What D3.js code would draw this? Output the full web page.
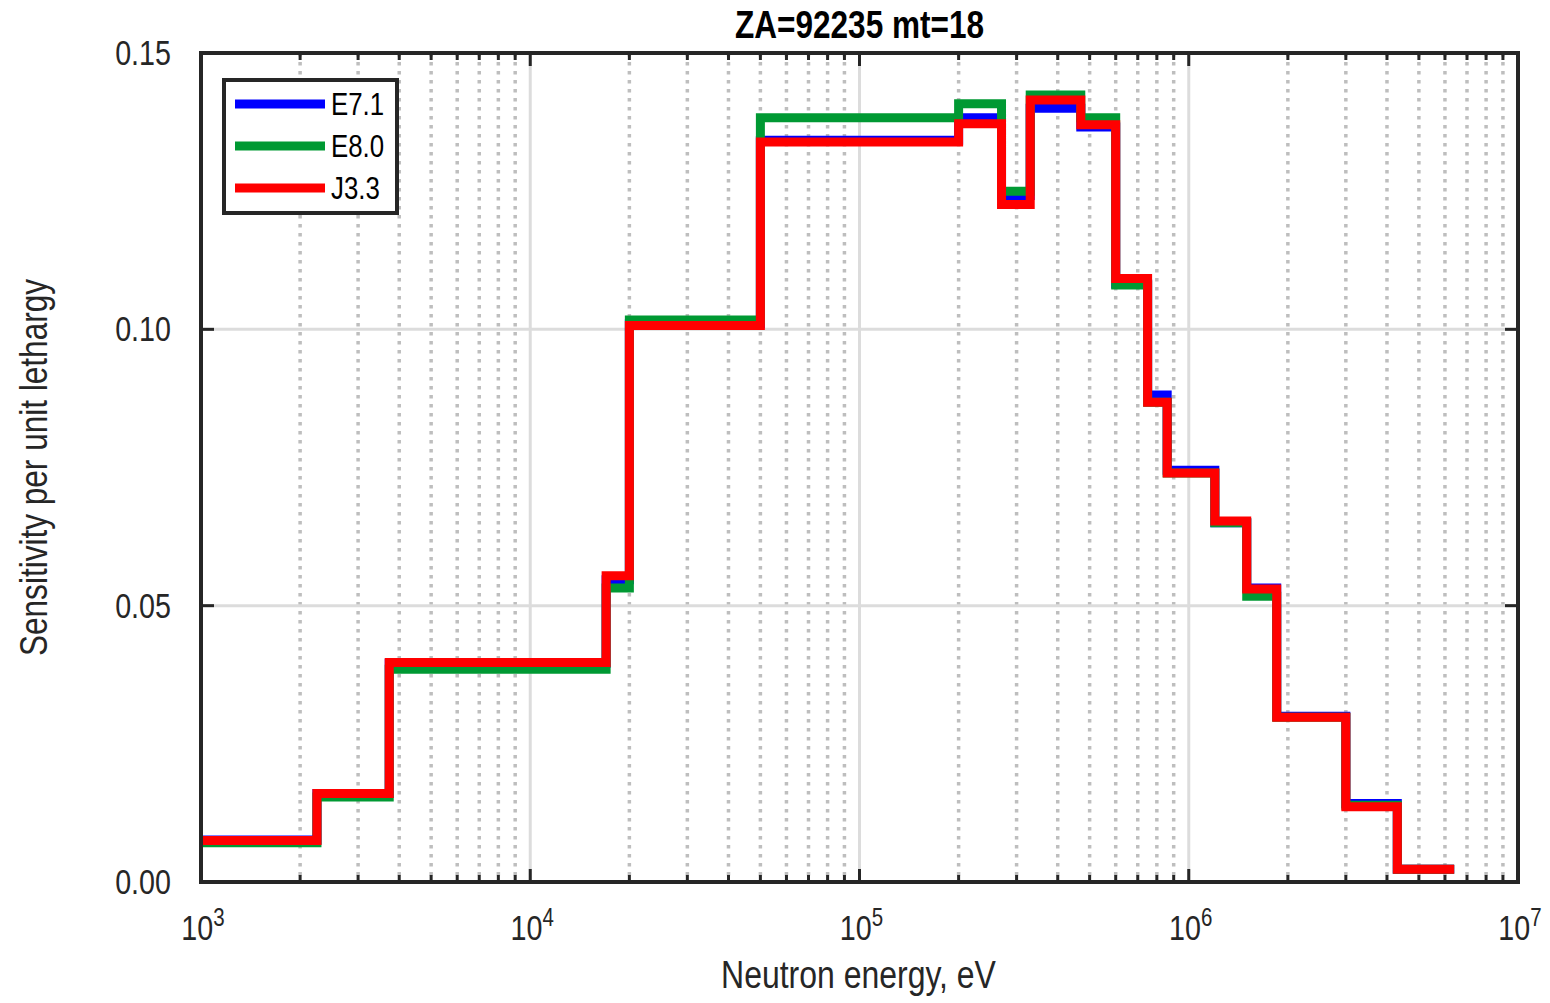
<!DOCTYPE html>
<html lang="en">
<head>
<meta charset="utf-8">
<title>ZA=92235 mt=18</title>
<style>
body { margin: 0; background: #fff; }
svg text { font-family: "Liberation Sans", Arial, Helvetica, sans-serif; fill: #262626; }
.grid-major { stroke: #dcdcdc; stroke-width: 3; }
.grid-minor { stroke: #bebebe; stroke-width: 3.5; stroke-dasharray: 3.5,5.5; }
.frame { fill: none; stroke: #262626; stroke-width: 4; }
.tick { stroke: #262626; stroke-width: 3; }
</style>
</head>
<body>
<div id="chart"></div>
<script src="https://d3js.org/d3.v7.min.js"></script>
<script>
// group boundaries (eV) and sensitivities per unit lethargy
var edges = [1e3, 2.25e3, 3.73e3, 1.7e4, 2.0e4, 5.0e4, 2.0e5, 2.7e5, 3.3e5, 4.7e5,
             6.0e5, 7.5e5, 8.6e5, 1.2e6, 1.5e6, 1.85e6, 3.0e6, 4.3e6, 6.4e6];
var e71 = [0.0076, 0.0160, 0.0396, 0.0547, 0.1010, 0.1342, 0.1383, 0.1242, 0.1400,
           0.1366, 0.1082, 0.0881, 0.0745, 0.0650, 0.0532, 0.0300, 0.0142, 0.0023];
var e80 = [0.0071, 0.0154, 0.0385, 0.0532, 0.1017, 0.1383, 0.1408, 0.1250, 0.1424,
           0.1383, 0.1080, 0.0868, 0.0740, 0.0650, 0.0517, 0.0298, 0.0139, 0.0023];
var j33 = [0.0075, 0.0160, 0.0397, 0.0554, 0.1007, 0.1339, 0.1372, 0.1226, 0.1415,
           0.1370, 0.1092, 0.0868, 0.0740, 0.0653, 0.0530, 0.0298, 0.0136, 0.0023];

var seriesNames = ["E7.1", "E8.0", "J3.3"];
var seriesColors = ["#0000ff", "#009933", "#ff0000"];
var seriesValues = [e71, e80, j33];

var yTicks = [0, 0.05, 0.10, 0.15];
var yTickLabels = ["0.00", "0.05", "0.10", "0.15"];
var xDecades = [1e3, 1e4, 1e5, 1e6, 1e7];
var xExponents = ["3", "4", "5", "6", "7"];

var width = 1550, height = 1003;
var pLeft = 201, pRight = 1518, pTop = 53, pBottom = 882;
var squeeze = 0.82; // narrow look of the original font

var svg = d3.select("#chart").append("svg")
    .attr("width", width)
    .attr("height", height);

var x = d3.scaleLog().domain([1e3, 1e7]).range([pLeft, pRight]);
var y = d3.scaleLinear().domain([0, 0.15]).range([pBottom, pTop]);

// minor ticks 2..9 of each decade
var minor = [];
xDecades.slice(0, -1).forEach(function(d) {
  for (var k = 2; k <= 9; k++) minor.push(d * k);
});

// grid
svg.append("g").selectAll("line").data(minor).enter().append("line")
    .attr("class", "grid-minor")
    .attr("x1", function(d) { return x(d); }).attr("x2", function(d) { return x(d); })
    .attr("y1", pTop).attr("y2", pBottom);
svg.append("g").selectAll("line").data(xDecades.slice(1, -1)).enter().append("line")
    .attr("class", "grid-major")
    .attr("x1", function(d) { return x(d); }).attr("x2", function(d) { return x(d); })
    .attr("y1", pTop).attr("y2", pBottom);
svg.append("g").selectAll("line").data(yTicks.slice(1, -1)).enter().append("line")
    .attr("class", "grid-major")
    .attr("x1", pLeft).attr("x2", pRight)
    .attr("y1", function(d) { return y(d); }).attr("y2", function(d) { return y(d); });

// step lines
var line = d3.line()
    .x(function(d) { return x(d[0]); })
    .y(function(d) { return y(d[1]); })
    .curve(d3.curveStepAfter);

function stepPoints(vals) {
  var pts = vals.map(function(v, i) { return [edges[i], v]; });
  pts.push([edges[edges.length - 1], vals[vals.length - 1]]);
  return pts;
}

svg.append("g").selectAll("path").data(seriesValues).enter().append("path")
    .attr("d", function(d) { return line(stepPoints(d)); })
    .attr("fill", "none")
    .attr("stroke", function(d, i) { return seriesColors[i]; })
    .attr("stroke-width", 9)
    .attr("stroke-linejoin", "miter");

// ticks (inside, on all four sides)
var tk = svg.append("g");
xDecades.forEach(function(d) {
  tk.append("line").attr("class", "tick").attr("x1", x(d)).attr("x2", x(d)).attr("y1", pBottom).attr("y2", pBottom - 13);
  tk.append("line").attr("class", "tick").attr("x1", x(d)).attr("x2", x(d)).attr("y1", pTop).attr("y2", pTop + 13);
});
minor.forEach(function(d) {
  tk.append("line").attr("class", "tick").attr("x1", x(d)).attr("x2", x(d)).attr("y1", pBottom).attr("y2", pBottom - 7);
  tk.append("line").attr("class", "tick").attr("x1", x(d)).attr("x2", x(d)).attr("y1", pTop).attr("y2", pTop + 7);
});
yTicks.forEach(function(d) {
  tk.append("line").attr("class", "tick").attr("x1", pLeft).attr("x2", pLeft + 13).attr("y1", y(d)).attr("y2", y(d));
  tk.append("line").attr("class", "tick").attr("x1", pRight).attr("x2", pRight - 13).attr("y1", y(d)).attr("y2", y(d));
});

svg.append("rect").attr("class", "frame")
    .attr("x", pLeft).attr("y", pTop)
    .attr("width", pRight - pLeft).attr("height", pBottom - pTop);

// text helper: squeezed horizontally
function label(px, py, str, size, anchor, rot) {
  return svg.append("text")
      .attr("transform", "translate(" + px + "," + py + ")" + (rot ? " rotate(" + rot + ")" : "") + " scale(" + squeeze + ",1)")
      .attr("text-anchor", anchor)
      .style("font-size", size + "px")
      .text(str);
}

yTicks.forEach(function(d, i) {
  label(171, y(d) + 12, yTickLabels[i], 35, "end");
});

xDecades.forEach(function(d, i) {
  var t = svg.append("text")
      .attr("transform", "translate(" + (x(d) + 2) + ",940) scale(" + squeeze + ",1)")
      .attr("text-anchor", "middle")
      .style("font-size", "35px");
  t.append("tspan").text("10");
  t.append("tspan").attr("dy", -14).style("font-size", "25px").text(xExponents[i]);
});

label((pLeft + pRight) / 2 - 1, 988, "Neutron energy, eV", 39, "middle");
label(47, (pTop + pBottom) / 2, "Sensitivity per unit lethargy", 38.5, "middle", -90);
label((pLeft + pRight) / 2, 38, "ZA=92235 mt=18", 38.5, "middle").style("font-weight", "bold").style("fill", "#000");

// legend
var lg = svg.append("g");
lg.append("rect").attr("x", 224).attr("y", 80).attr("width", 173).attr("height", 133)
    .attr("fill", "#fff").attr("stroke", "#262626").attr("stroke-width", 4);
seriesNames.forEach(function(n, i) {
  var ly = 104 + i * 42;
  lg.append("line").attr("x1", 235).attr("x2", 325).attr("y1", ly).attr("y2", ly)
      .attr("stroke", seriesColors[i]).attr("stroke-width", 9);
  label(331, ly + 11, n, 31.5, "start").style("fill", "#000");
});
</script>
</body>
</html>
